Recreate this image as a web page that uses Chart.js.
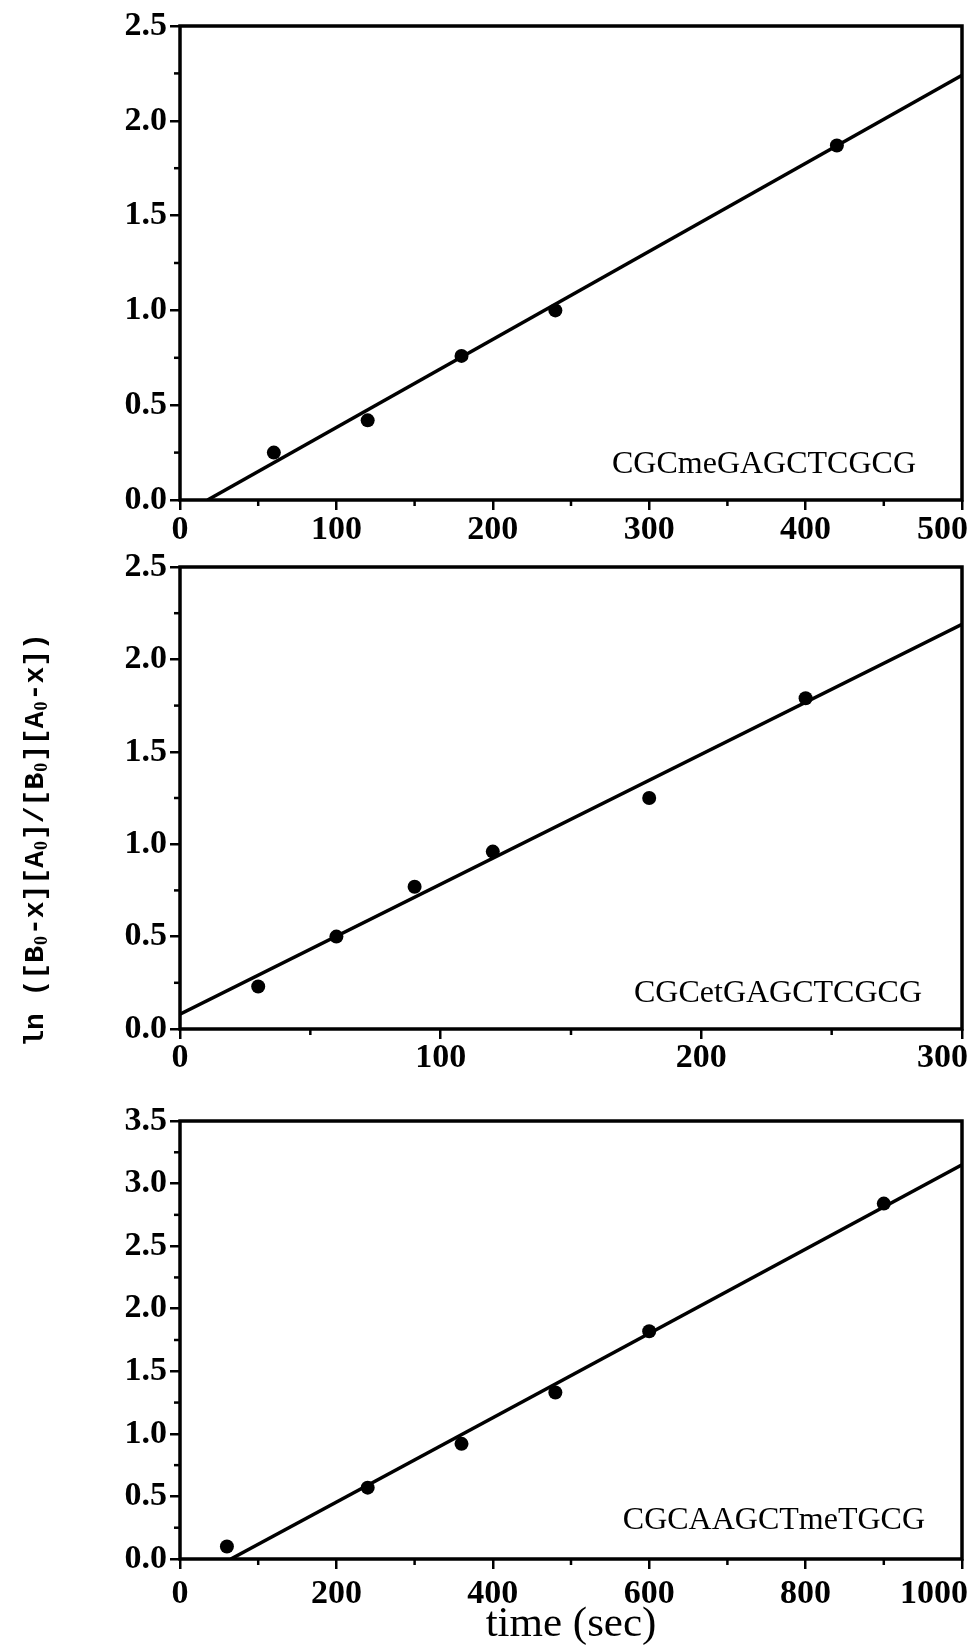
<!DOCTYPE html>
<html>
<head>
<meta charset="utf-8">
<script src="https://cdn.jsdelivr.net/npm/chart.js@4.4.0/dist/chart.umd.min.js"></script>
<style>
html,body{margin:0;padding:0;background:#fff;}
body{width:969px;height:1646px;position:relative;overflow:hidden;}
canvas{position:absolute;left:0;display:block;}
</style>
</head>
<body>
<canvas id="c1" width="969" height="548" style="top:0px"></canvas>
<canvas id="c2" width="969" height="542" style="top:548px"></canvas>
<canvas id="c3" width="969" height="556" style="top:1090px"></canvas>
<script>
// ---- data ----
const timesA = [60, 120, 180, 240, 420];
const valuesA = [0.25, 0.42, 0.76, 1.00, 1.87];
const fitTimesA = [17.6, 500];
const fitValuesA = [0, 2.24];

const timesB = [30, 60, 90, 120, 180, 240];
const valuesB = [0.23, 0.50, 0.77, 0.96, 1.25, 1.79];
const fitTimesB = [0, 300];
const fitValuesB = [0.08, 2.19];

const timesC = [60, 240, 360, 480, 600, 900];
const valuesC = [0.10, 0.57, 0.92, 1.33, 1.82, 2.84];
const fitTimesC = [65, 1000];
const fitValuesC = [0, 3.15];

const sequenceLabels = ['CGCmeGAGCTCGCG', 'CGCetGAGCTCGCG', 'CGCAAGCTmeTGCG'];
const xMaxes = [500, 300, 1000];
const xSteps = [100, 100, 200];
const yMaxes = [2.5, 2.5, 3.5];
const ySteps = [0.5, 0.5, 0.5];
const xAxisTitle = 'time (sec)';
// y-axis title pieces: [text, isSubscript]
const yAxisTitleParts = [
  ['ln ([B', false], ['0', true], ['-x][A', false], ['0', true], [']/[B', false],
  ['0', true], ['][A', false], ['0', true], ['-x])', false]
];

// ---- drawing ----
const SERIF = '"Liberation Serif", "Times New Roman", serif';
const TICK_FONT = 'bold 34px ' + SERIF;

const framePlugin = {
  id: 'frame',
  afterDraw(chart, args, opts) {
    const {ctx, chartArea: a, scales} = chart;
    ctx.save();
    ctx.strokeStyle = '#000';
    ctx.fillStyle = '#000';
    ctx.lineWidth = 3.5;
    ctx.strokeRect(a.left, a.top, a.right - a.left, a.bottom - a.top);
    // minor ticks at midpoints of the library's major ticks
    ctx.lineWidth = 2.5;
    const xv = scales.x.ticks.map(t => t.value);
    for (let i = 0; i < xv.length - 1; i++) {
      const p = scales.x.getPixelForValue((xv[i] + xv[i + 1]) / 2);
      ctx.beginPath(); ctx.moveTo(p, a.bottom); ctx.lineTo(p, a.bottom + 6); ctx.stroke();
    }
    const yv = scales.y.ticks.map(t => t.value);
    for (let i = 0; i < yv.length - 1; i++) {
      const p = scales.y.getPixelForValue((yv[i] + yv[i + 1]) / 2);
      ctx.beginPath(); ctx.moveTo(a.left, p); ctx.lineTo(a.left - 6, p); ctx.stroke();
    }
    // x tick labels from the library's ticks (kept inside the page at the right edge)
    ctx.font = TICK_FONT;
    ctx.textAlign = 'center';
    ctx.textBaseline = 'middle';
    for (const t of scales.x.ticks) {
      const label = String(t.value);
      const w = ctx.measureText(label).width;
      let p = scales.x.getPixelForValue(t.value);
      p = Math.min(p, chart.width - w / 2 - 1);
      ctx.fillText(label, p, a.bottom + opts.labelDy);
    }
    // sequence label
    ctx.font = '32px ' + SERIF;
    ctx.textAlign = 'right';
    ctx.textBaseline = 'middle';
    ctx.fillText(opts.text, a.right - opts.dx, a.bottom - opts.dy);
    // shared y-axis title
    if (opts.yTitle) {
      const mainFont = 'bold 28px "Liberation Mono", "Courier New", monospace';
      const subFont = 'bold 18px "Liberation Serif", serif';
      let total = 0;
      for (const [t, sub] of yAxisTitleParts) { ctx.font = sub ? subFont : mainFont; total += ctx.measureText(t).width + (sub ? 2 : 0); }
      ctx.translate(opts.yTitle.x, opts.yTitle.y);
      ctx.rotate(-Math.PI / 2);
      ctx.textAlign = 'left';
      ctx.textBaseline = 'alphabetic';
      let x = -total / 2;
      for (const [t, sub] of yAxisTitleParts) {
        ctx.font = sub ? subFont : mainFont;
        if (sub) x += 1;
        ctx.fillText(t, x, sub ? 13 : 9);
        x += ctx.measureText(t).width + (sub ? 1 : 0);
      }
    }
    ctx.restore();
  }
};

function makeChart(id, times, values, fitT, fitV, idx, layout) {
  const scales = {
    x: {
      type: 'linear', min: 0, max: xMaxes[idx],
      ticks: {stepSize: xSteps[idx], autoSkip: false, maxRotation: 0, display: false},
      grid: {display: true, drawOnChartArea: false, drawTicks: true, tickLength: 10, color: '#000', lineWidth: 2.5},
      border: {display: false},
      afterFit(s) { s.height = layout.xh; s.paddingLeft = 0; s.paddingRight = 0; }
    },
    y: {
      type: 'linear', min: 0, max: yMaxes[idx],
      ticks: {stepSize: ySteps[idx], autoSkip: false, color: '#000',
              font: {family: SERIF, size: 34, weight: 'bold'}, padding: 3,
              callback: v => Number(v).toFixed(1)},
      grid: {display: true, drawOnChartArea: false, drawTicks: true, tickLength: 10, color: '#000', lineWidth: 2.5},
      border: {display: false},
      afterFit(s) { s.width = 180; s.paddingTop = 0; s.paddingBottom = 0; }
    }
  };
  if (layout.xTitle) {
    scales.x.title = {display: true, text: xAxisTitle, color: '#000',
      font: {family: SERIF, size: 43, weight: 'normal', lineHeight: 1.0}, padding: {top: 0, bottom: 0}};
  }
  return new Chart(document.getElementById(id), {
    type: 'scatter',
    data: {
      datasets: [
        {data: times.map((t, i) => ({x: t, y: values[i]})), pointRadius: 7, pointBackgroundColor: '#000',
         pointBorderWidth: 0, showLine: false},
        {data: fitT.map((t, i) => ({x: t, y: fitV[i]})), showLine: true, borderColor: '#000', borderWidth: 3.5,
         pointRadius: 0, fill: false}
      ]
    },
    options: {
      responsive: false, animation: false, events: [],
      layout: {padding: {left: 0, right: 5, top: layout.top, bottom: 0}},
      plugins: {legend: {display: false}, tooltip: {enabled: false},
        frame: {text: sequenceLabels[idx], dx: layout.dx, dy: layout.dy, labelDy: layout.labelDy, yTitle: layout.yTitle}},
      scales
    },
    plugins: [framePlugin]
  });
}

makeChart('c1', timesA, valuesA, fitTimesA, fitValuesA, 0, {top: 26, xh: 48, dx: 46, dy: 35, labelDy: 30});
makeChart('c2', timesB, valuesB, fitTimesB, fitValuesB, 1, {top: 19, xh: 61, dx: 40, dy: 35, labelDy: 29, yTitle: {x: 34, y: 292}});
makeChart('c3', timesC, valuesC, fitTimesC, fitValuesC, 2, {top: 31, xh: 87, dx: 37, dy: 38, labelDy: 35, xTitle: true});
</script>
</body>
</html>
